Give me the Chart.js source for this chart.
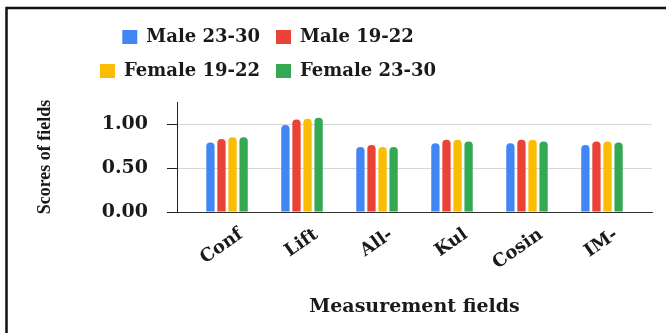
<!DOCTYPE html>
<html>
<head>
<meta charset="utf-8">
<script src="https://cdn.jsdelivr.net/npm/chart.js@4/dist/chart.umd.min.js"></script>
<style>
  html, body { margin: 0; padding: 0; background: #fff; overflow: hidden; }
  #chart { display: block; }
</style>
</head>
<body>
<canvas id="chart" width="666" height="333"></canvas>
<script>
// measurement fields and scores per group
const fields = ['Conf', 'Lift', 'All-', 'Kul', 'Cosin', 'IM-'];
const male2330 = [0.79, 0.99, 0.74, 0.78, 0.78, 0.76];
const male1922 = [0.83, 1.05, 0.76, 0.82, 0.82, 0.80];
const female1922 = [0.85, 1.06, 0.74, 0.82, 0.82, 0.80];
const female2330 = [0.85, 1.07, 0.74, 0.80, 0.80, 0.79];
const yTicks = [0, 0.5, 1];

const serif = 'DejaVu Serif';
const toPoints = arr => arr.map((v, i) => ({ x: i, y: v }));

function series(label, values, color) {
  return {
    label,
    data: toPoints(values),
    backgroundColor: color,
    borderColor: color,
    borderRadius: 4,
    categoryPercentage: 0.59,
    barPercentage: 0.75
  };
}

// legend in the reference sits left of the plot centre, a bit higher up
const legendShift = {
  id: 'legendShift',
  afterLayout(chart) {
    const lg = chart.legend;
    const dx = 268 - (lg.left + lg.right) / 2;
    lg.left += dx;
    lg.right += dx;
    lg.top -= 12;
    lg.bottom -= 12;
  }
};

// thick frame on the top and left edge of the figure
const frame = {
  id: 'frame',
  afterDraw(chart) {
    const ctx = chart.ctx;
    ctx.save();
    ctx.strokeStyle = '#111';
    ctx.lineWidth = 2.5;
    ctx.beginPath();
    ctx.moveTo(6.5, chart.height);
    ctx.lineTo(6.5, 8);
    ctx.lineTo(chart.width, 8);
    ctx.stroke();
    ctx.restore();
  }
};

new Chart(document.getElementById('chart'), {
  type: 'bar',
  data: {
    datasets: [
      series('Male 23-30', male2330, '#4285F4'),
      series('Male 19-22', male1922, '#EA4335'),
      series('Female 19-22', female1922, '#FBBC04'),
      series('Female 23-30', female2330, '#34A853')
    ]
  },
  options: {
    responsive: false,
    animation: false,
    layout: { padding: { left: 20, right: 14, top: 24, bottom: 10 } },
    plugins: {
      tooltip: { enabled: false },
      legend: {
        position: 'top',
        fullSize: false,
        labels: {
          boxWidth: 15,
          boxHeight: 14,
          padding: 16,
          color: '#1a1a1a',
          font: { family: serif, size: 18, weight: 'bold' }
        }
      }
    },
    scales: {
      x: {
        type: 'linear',
        offset: false,
        min: -0.667,
        max: 5.667,
        afterBuildTicks: s => { s.ticks = fields.map((_, i) => ({ value: i })); },
        afterFit: s => { s.height = 111; },
        grid: { display: false, drawTicks: false },
        border: { display: true, color: '#333', width: 1 },
        ticks: {
          autoSkip: false,
          minRotation: 35,
          maxRotation: 35,
          padding: 12,
          labelOffset: 14,
          color: '#1a1a1a',
          font: { family: serif, size: 18, weight: 'bold' },
          callback: v => fields[v]
        },
        title: {
          display: true,
          text: 'Measurement fields',
          color: '#1a1a1a',
          padding: { top: 0, bottom: 5 },
          font: { family: serif, size: 19, weight: 'bold' }
        }
      },
      y: {
        min: 0,
        max: 1.25,
        afterFit: s => { s.width = 157; },
        grid: { color: '#d6d6d6', tickColor: '#222', tickLength: 10 },
        border: { display: true, color: '#222', width: 1 },
        ticks: {
          stepSize: 0.25,
          padding: 19,
          color: '#1a1a1a',
          font: { family: serif, size: 19, weight: 'bold' },
          callback: v => yTicks.includes(v) ? v.toFixed(2) : ''
        },
        title: {
          display: true,
          text: 'Scores of fields',
          color: '#1a1a1a',
          padding: { top: 15, bottom: 0 },
          font: { family: 'Liberation Serif', size: 18, weight: 'bold' }
        }
      }
    }
  },
  plugins: [legendShift, frame]
});
</script>
</body>
</html>
